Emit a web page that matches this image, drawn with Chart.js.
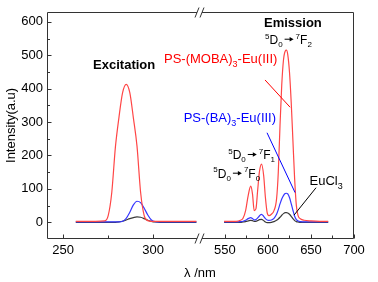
<!DOCTYPE html>
<html><head><meta charset="utf-8">
<script src="https://cdn.jsdelivr.net/npm/chart.js@4.4.0/dist/chart.umd.min.js"></script>
<style>html,body{margin:0;padding:0;background:#fff;}</style>
</head><body>
<canvas id="c" width="378" height="282" style="display:block;width:378px;height:282px"></canvas>
<script>
// ---------- data ----------
const excWavelength = [257, 262, 268, 273, 275, 277, 279, 281, 283, 285, 287, 289, 291, 293, 295, 297, 299, 301, 304, 310, 318, 324];
const excMOBA  = [3, 3, 3, 4, 20, 90, 225, 315, 388, 413, 388, 312, 228, 90, 20, 5, 3, 3, 3, 3, 3, 3];
const excBA    = [1, 1, 1, 1, 1, 1, 1, 1, 3, 12, 30, 52, 63, 59, 42, 22, 7, 2, 1, 1, 1, 1];
const excEuCl3 = [0, 0, 0, 0, 0, 0, 0, 1, 3, 7, 11, 14, 16, 15, 11, 6, 3, 1, 0, 0, 0, 0];

const emWavelength = [549, 556, 563, 568, 571, 574, 577, 580, 582, 584, 586, 588, 590, 592.5, 595, 597, 599, 601, 604, 607, 610, 612, 614, 616, 618, 620, 621.5, 623, 625, 627, 629, 631, 633, 635, 638, 642, 650, 660, 670];
const emMOBA  = [3, 3, 3, 6, 12, 35, 80, 108, 85, 35, 40, 95, 150, 174, 140, 75, 30, 20, 24, 35, 70, 150, 290, 410, 485, 512, 515, 502, 450, 360, 245, 130, 50, 20, 10, 6, 4, 3, 3];
const emBA    = [1, 1, 1, 2, 3, 6, 11, 14, 11, 7, 8, 13, 19, 24, 18, 11, 7, 6, 7, 12, 24, 38, 55, 70, 80, 86, 87, 85, 74, 56, 36, 18, 8, 4, 2, 1, 1, 1, 1];
const emEuCl3 = [0, 0, 0, 0, 1, 2, 4, 6, 5, 3, 3, 5, 8, 9, 5, 1, -1, -1, 0, 2, 6, 10, 15, 21, 26, 29, 29, 28, 24, 18, 11, 5, 2, 1, 0, 0, 0, 0, 0];

const yTicks = [0, 100, 200, 300, 400, 500, 600];
const yMinorTicks = [50, 150, 250, 350, 450, 550];
const xTicksLeft = [250, 300];
const xMinorLeft = [275];
const xTicksRight = [550, 600, 650, 700];
const xMinorRight = [575, 625, 675];

// ---------- styling ----------
const FONT = '"Liberation Sans", Arial, Helvetica, sans-serif';
const RED = 'rgb(255,70,70)', BLUE = 'rgb(55,55,255)', GREY = '#3a3a3a';

const pts = (xs, ys) => xs.map((x, i) => ({x: x, y: ys[i]}));

const labels = [
  {axis: 'x1', x: 266.6, y: 459, size: 13, bold: true, color: '#000', parts: [['Excitation', 'n']]},
  {axis: 'x2', x: 595.4, y: 586, size: 13, bold: true, color: '#000', parts: [['Emission', 'n']]},
  {axis: 'x2', x: 610.9, y: 476, size: 13, align: 'right', color: '#ff0000', parts: [['PS-(MOBA)', 'n'], ['3', 'sub'], ['-Eu(III)', 'n']]},
  {axis: 'x2', x: 609.4, y: 299, size: 13, align: 'right', color: '#0000ff', parts: [['PS-(BA)', 'n'], ['3', 'sub'], ['-Eu(III)', 'n']]},
  {axis: 'x2', x: 596.6, y: 535, size: 12, color: '#000', parts: [['5', 'sup'], ['D', 'n'], ['0', 'sub'], ['', 'arrow'], ['7', 'sup'], ['F', 'n'], ['2', 'sub']]},
  {axis: 'x2', x: 553.8, y: 190, size: 12, color: '#000', parts: [['5', 'sup'], ['D', 'n'], ['0', 'sub'], ['', 'arrow'], ['7', 'sup'], ['F', 'n'], ['1', 'sub']]},
  {axis: 'x2', x: 536.5, y: 134, size: 12, color: '#000', parts: [['5', 'sup'], ['D', 'n'], ['0', 'sub'], ['', 'arrow'], ['7', 'sup'], ['F', 'n'], ['0', 'sub']]},
  {axis: 'x2', x: 648.3, y: 111, size: 13, color: '#000', parts: [['EuCl', 'n'], ['3', 'sub']]}
];
const leaders = [
  {color: '#ff0000', from: [596.6, 426], to: [625.7, 344.5]},
  {color: '#0000ff', from: [598.9, 268], to: [631.5, 89]},
  {color: '#000000', from: [655.9, 103.5], to: [630.3, 21.5]}
];

function drawRich(ctx, item, px, py) {
  const size = item.size, small = Math.round(size * 0.7);
  const w = item.bold ? 'bold ' : '';
  const fN = w + size + 'px ' + FONT, fS = w + small + 'px ' + FONT;
  const arrowW = 13;
  const widths = item.parts.map(p => {
    if (p[1] === 'arrow') return arrowW;
    ctx.font = p[1] === 'n' ? fN : fS;
    return ctx.measureText(p[0]).width;
  });
  const total = widths.reduce((a, b) => a + b, 0);
  let cx = item.align === 'right' ? px - total : item.align === 'center' ? px - total / 2 : px;
  ctx.fillStyle = item.color; ctx.strokeStyle = item.color;
  ctx.textAlign = 'left'; ctx.textBaseline = 'alphabetic';
  item.parts.forEach((p, i) => {
    if (p[1] === 'arrow') {
      const ay = py - size * 0.36;
      ctx.lineWidth = 1;
      ctx.beginPath(); ctx.moveTo(cx + 2, ay); ctx.lineTo(cx + arrowW - 5, ay); ctx.stroke();
      ctx.beginPath(); ctx.moveTo(cx + arrowW - 2, ay); ctx.lineTo(cx + arrowW - 6, ay - 2.2); ctx.lineTo(cx + arrowW - 6, ay + 2.2); ctx.closePath(); ctx.fill();
    } else {
      ctx.font = p[1] === 'n' ? fN : fS;
      const dy = p[1] === 'sup' ? -size * 0.42 : p[1] === 'sub' ? size * 0.28 : 0;
      ctx.fillText(p[0], cx, py + dy);
    }
    cx += widths[i];
  });
}

const decor = {
  id: 'decor',
  afterDraw(chart) {
    const {ctx, chartArea: a} = chart;
    const {x1, x2, y} = chart.scales;
    ctx.save();
    ctx.strokeStyle = '#333'; ctx.lineWidth = 1;
    const L = Math.round(a.left) + 0.5, R = Math.round(a.right) - 0.5;
    const T = Math.round(a.top) + 0.5, B = Math.round(a.bottom) - 0.5;
    const bx = Math.round(x1.right);
    const seg = (xa, ya, xb, yb) => { ctx.beginPath(); ctx.moveTo(xa, ya); ctx.lineTo(xb, yb); ctx.stroke(); };
    seg(L, T, L, B); seg(R, T, R, B);
    [T, B].forEach(yy => {
      seg(L, yy, bx - 3, yy); seg(bx + 2, yy, R, yy);
      seg(bx - 5, yy + 5, bx - 1, yy - 5);
      seg(bx, yy + 5, bx + 4, yy - 5);
    });
    // inward ticks
    yTicks.forEach(v => { const p = Math.round(y.getPixelForValue(v)) + 0.5; seg(L, p, L + 4, p); });
    yMinorTicks.forEach(v => { const p = Math.round(y.getPixelForValue(v)) + 0.5; seg(L, p, L + 2.5, p); });
    xTicksLeft.forEach(v => { const p = Math.round(x1.getPixelForValue(v)) + 0.5; seg(p, B, p, B - 4); });
    xMinorLeft.forEach(v => { const p = Math.round(x1.getPixelForValue(v)) + 0.5; seg(p, B, p, B - 3); });
    xTicksRight.forEach(v => { const p = Math.round(x2.getPixelForValue(v)) + 0.5; seg(p, B, p, B - 4); });
    xMinorRight.forEach(v => { const p = Math.round(x2.getPixelForValue(v)) + 0.5; seg(p, B, p, B - 3); });
    // leader lines
    leaders.forEach(l => {
      ctx.strokeStyle = l.color; ctx.lineWidth = 1;
      seg(x2.getPixelForValue(l.from[0]), y.getPixelForValue(l.from[1]), x2.getPixelForValue(l.to[0]), y.getPixelForValue(l.to[1]));
    });
    // labels
    labels.forEach(it => {
      const sc = chart.scales[it.axis];
      drawRich(ctx, it, sc.getPixelForValue(it.x), y.getPixelForValue(it.y));
    });
    // x title
    ctx.fillStyle = '#000'; ctx.font = '13px ' + FONT; ctx.textAlign = 'center'; ctx.textBaseline = 'alphabetic';
    ctx.fillText('\u03bb /nm', bx, 277);
    ctx.restore();
  }
};

const tickFont = {family: FONT, size: 13};
const xCommon = {
  type: 'linear', position: 'bottom', stack: 'x',
  grid: {display: false, drawTicks: false}, border: {display: false},
  ticks: {padding: 4, font: tickFont, color: '#000', maxRotation: 0, autoSkip: false},
  afterFit: s => { s.height = 43; }
};

new Chart(document.getElementById('c'), {
  type: 'line',
  data: {
    datasets: [
      {data: pts(excWavelength, excMOBA), xAxisID: 'x1', yAxisID: 'y', borderColor: RED},
      {data: pts(excWavelength, excBA), xAxisID: 'x1', yAxisID: 'y', borderColor: BLUE},
      {data: pts(excWavelength, excEuCl3), xAxisID: 'x1', yAxisID: 'y', borderColor: GREY},
      {data: pts(emWavelength, emMOBA), xAxisID: 'x2', yAxisID: 'y', borderColor: RED},
      {data: pts(emWavelength, emBA), xAxisID: 'x2', yAxisID: 'y', borderColor: BLUE},
      {data: pts(emWavelength, emEuCl3), xAxisID: 'x2', yAxisID: 'y', borderColor: GREY}
    ]
  },
  options: {
    responsive: false, animation: false, devicePixelRatio: 1,
    layout: {padding: {left: 0, right: 24, top: 11, bottom: 0}},
    plugins: {legend: {display: false}, tooltip: {enabled: false}},
    elements: {point: {radius: 0}, line: {borderWidth: 1.2, cubicInterpolationMode: 'monotone', fill: false}},
    scales: {
      y: {
        type: 'linear', position: 'left', min: -50, max: 630,
        grid: {display: false, drawTicks: false}, border: {display: false},
        ticks: {padding: 4, font: tickFont, color: '#000'},
        afterBuildTicks: s => { s.ticks = yTicks.map(v => ({value: v})); },
        afterFit: s => { s.width = 47; },
        title: {display: true, text: 'Intensity(a.u)', font: {family: FONT, size: 13}, color: '#000', padding: {top: 4, bottom: 0}}
      },
      x1: Object.assign({}, xCommon, {
        stackWeight: 153, min: 241, max: 326,
        afterBuildTicks: s => { s.ticks = xTicksLeft.map(v => ({value: v})); }
      }),
      x2: Object.assign({}, xCommon, {
        stackWeight: 154, min: 521, max: 700,
        afterBuildTicks: s => { s.ticks = xTicksRight.map(v => ({value: v})); }
      })
    }
  },
  plugins: [decor]
});
</script>
</body></html>
